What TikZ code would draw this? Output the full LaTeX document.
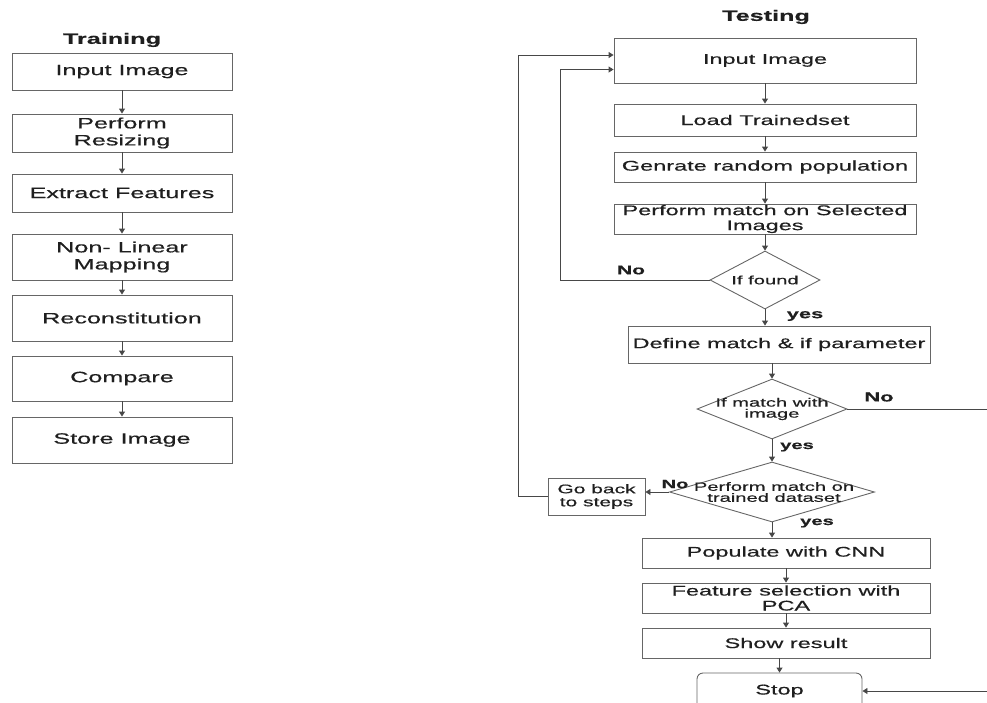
\documentclass[tikz,border=0pt]{standalone}
\usepackage{fontspec}
\setmainfont{Liberation Sans}[FakeStretch=1.68,FakeBold=0.5]
\usetikzlibrary{arrows.meta,shapes.geometric}
\newcommand\fsL{\fontsize{15}{17}\selectfont}
\newcommand\fsR{\fontsize{14}{15}\selectfont}
\newcommand\fsD{\fontsize{12}{11}\selectfont}
\newcommand\fsG{\fontsize{12.5}{13}\selectfont}
\tikzset{
  box/.style={draw=black!60, line width=0.9pt, rectangle, inner sep=0pt, align=center, text=black!88},
  dia/.style={draw=black!60, line width=0.9pt, diamond, inner sep=0pt},
  dtext/.style={inner sep=0pt, align=center, text=black!88, font=\fsD},
  arr/.style={draw=black!72, line width=0.9pt, -{Triangle[length=5pt,width=6pt]}},
  lab/.style={inner sep=0pt, text=black!88},
}
\begin{document}
\begin{tikzpicture}[x=1pt,y=-1pt]
\useasboundingbox (0,0) rectangle (987,702);
% ---------- Training ----------
\node[lab, font=\bfseries\fsL] (ttl1) at (112,40) {Training};
\node[box, minimum width=220pt, minimum height=37pt, font=\fsL] (L1) at (122,71.5) {Input Image};
\node[box, minimum width=220pt, minimum height=38pt, font=\fsL] (L2) at (122,133) {Perform\\Resizing};
\node[box, minimum width=220pt, minimum height=38pt, font=\fsL] (L3) at (122,193) {Extract Features};
\node[box, minimum width=220pt, minimum height=46pt, font=\fsL] (L4) at (122,257) {Non- Linear\\Mapping};
\node[box, minimum width=220pt, minimum height=46pt, font=\fsL] (L5) at (122,318) {Reconstitution};
\node[box, minimum width=220pt, minimum height=45pt, font=\fsL] (L6) at (122,378.5) {Compare};
\node[box, minimum width=220pt, minimum height=46pt, font=\fsL] (L7) at (122,440) {Store Image};
\foreach \a/\b in {L1/L2,L2/L3,L3/L4,L4/L5,L5/L6,L6/L7}
  \draw[arr] (\a.south) -- (\b.north);
% ---------- Testing ----------
\node[lab, font=\bfseries\fsL] (ttl2) at (766,17) {Testing};
\node[box, minimum width=302pt, minimum height=45pt, font=\fsR] (R1) at (765,60.5) {Input Image};
\node[box, minimum width=302pt, minimum height=32pt, font=\fsR] (R2) at (765,120) {Load Trainedset};
\node[box, minimum width=302pt, minimum height=30pt, font=\fsR] (R3) at (765,167) {Genrate random population};
\node[box, minimum width=302pt, minimum height=30pt, font=\fsR] (R4) at (765,219) {Perform match on Selected\\Images};
\node[dia, minimum width=110pt, minimum height=58pt] (D1) at (765,280) {};
\node[dtext] (D1t) at (D1) {If found};
\node[box, minimum width=302pt, minimum height=37pt, font=\fsR] (R5) at (779,344.5) {Define match \& if parameter};
\node[dia, minimum width=150pt, minimum height=60pt] (D2) at (772,409) {};
\node[dtext] (D2t) at (D2) {If match with\\image};
\node[dia, minimum width=205pt, minimum height=60pt] (D3) at (772,492) {};
\node[dtext] (D3t) at (774,492) {Perform match on\\trained dataset};
\node[box, minimum width=97pt, minimum height=37pt, font=\fsG] (G) at (596.5,496.5) {Go back\\to steps};
\node[box, minimum width=288pt, minimum height=30pt, font=\fsR] (R6) at (786,553) {Populate with CNN};
\node[box, minimum width=288pt, minimum height=30pt, font=\fsR] (R7) at (786,598) {Feature selection with\\PCA};
\node[box, minimum width=288pt, minimum height=30pt, font=\fsR] (R8) at (786,643) {Show result};
\node[box, rounded corners=6pt, minimum width=165pt, minimum height=36pt, font=\fsR] (Stop) at (779.5,691) {Stop};
% labels
\node[lab, font=\bfseries\fontsize{12.5}{14}\selectfont] (no1) at (631,270) {No};
\node[lab, font=\bfseries\fontsize{13}{15}\selectfont] (yes1) at (805,316) {yes};
\node[lab, font=\bfseries\fontsize{13}{15}\selectfont] (no2) at (879,397) {No};
\node[lab, font=\bfseries\fontsize{12}{14}\selectfont] (yes2) at (797,447) {yes};
\node[lab, font=\bfseries\fontsize{12}{14}\selectfont] (no3) at (675,484) {No};
\node[lab, font=\bfseries\fontsize{12}{14}\selectfont] (yes3) at (817,523) {yes};
% main flow
\draw[arr] (R1.south) -- (R2.north);
\draw[arr] (R2.south) -- (R3.north);
\draw[arr] (R3.south) -- (R4.north);
\draw[arr] (R4.south) -- (D1.north);
\draw[arr] (D1.south) -- (D1.south |- R5.north);
\draw[arr] (D2.north |- R5.south) -- (D2.north);
\draw[arr] (D2.south) -- (D3.north);
\draw[arr] (D3.south) -- (D3.south |- R6.north);
\draw[arr] (R7.north |- R6.south) -- (R7.north);
\draw[arr] (R7.south) -- (R8.north);
\draw[arr] (Stop.north |- R8.south) -- (Stop.north);
% loops
\coordinate (c1) at (560,69.5);
\draw[arr] (D1.west) -| (c1) -- (c1 -| R1.west);
\coordinate (c3) at (518,55);
\draw[arr] (G.west) -| (c3) -- (c3 -| R1.west);
\draw[arr] (D3.west) -- (D3.west -| G.east);
\coordinate (c4) at (987.6,409);
\draw[arr] (D2.east) -- (c4) |- (Stop.east);
\end{tikzpicture}
\end{document}
